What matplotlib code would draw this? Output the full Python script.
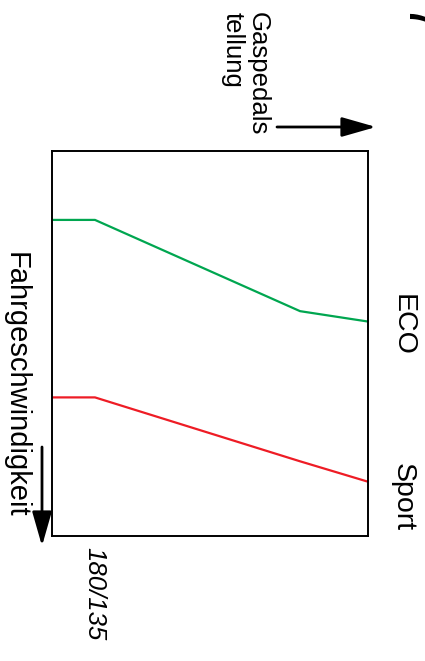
import matplotlib
matplotlib.use("Agg")
import matplotlib.pyplot as plt

plt.rcParams['font.family'] = ['Liberation Sans', 'DejaVu Sans']

# Data (pedal position in %, speed in % of axis range; axis drawn rotated)
pedal = [0, 13.6, 78.5, 100]
eco_speed = [17.9, 17.9, 41.6, 44.3]
sport_speed = [64.0, 64.0, 80.6, 85.9]
label_eco = "ECO"
label_sport = "Sport"
label_pedal = ["Gaspedals", "tellung"]
label_speed = "Fahrgeschwindigkeit"
label_tick = "180/135"
label_fig = "7"

W, H = 425, 661
fig = plt.figure(figsize=(W / 100, H / 100), dpi=100)
fig.patch.set_facecolor('white')

def fx(x):
    return x / W

def fy(y):
    return 1 - y / H

left, right, top, bottom = 52, 368, 151, 536
ax = fig.add_axes([fx(left), fy(bottom), (right - left) / W, (bottom - top) / H])
ax.plot(pedal, eco_speed, color='#00a650', lw=1.6, solid_capstyle='butt')
ax.plot(pedal, sport_speed, color='#ee1c25', lw=1.6, solid_capstyle='butt')
ax.set_xlim(0, 100)
ax.set_ylim(100, 0)
ax.set_xticks([])
ax.set_yticks([])
for s in ax.spines.values():
    s.set_linewidth(1.4)
    s.set_color('black')

# Texts (rotated -90, reading top to bottom)
fig.text(fx(258), fy(12), label_pedal[0], rotation=-90, ha='center', va='top', fontsize=18.5)
fig.text(fx(233), fy(12), label_pedal[1], rotation=-90, ha='center', va='top', fontsize=18.5)
fig.text(fx(403), fy(325), label_eco, rotation=-90, ha='center', va='center', fontsize=20.5)
fig.text(fx(403), fy(497), label_sport, rotation=-90, ha='center', va='center', fontsize=20.5)
fig.text(fx(16), fy(385), label_speed, rotation=-90, ha='center', va='center', fontsize=21)
fig.text(fx(94), fy(594), label_tick, rotation=-90, ha='center', va='center', fontsize=18.5, style='italic')
fig.text(fx(420), fy(20), label_fig, rotation=-90, ha='center', va='center', fontsize=40)

# Arrows
ap = dict(arrowstyle='-|>,head_length=1.05,head_width=0.3', mutation_scale=20,
          lw=2, color='black', shrinkA=0, shrinkB=0)
ax.annotate('', xy=(fx(376), fy(127)), xytext=(fx(277), fy(127)),
            xycoords='figure fraction', textcoords='figure fraction', arrowprops=ap,
            annotation_clip=False)
ax.annotate('', xy=(fx(42), fy(546)), xytext=(fx(42), fy(447)),
            xycoords='figure fraction', textcoords='figure fraction', arrowprops=ap,
            annotation_clip=False)

fig.savefig('out.png', dpi=100, facecolor='white')
